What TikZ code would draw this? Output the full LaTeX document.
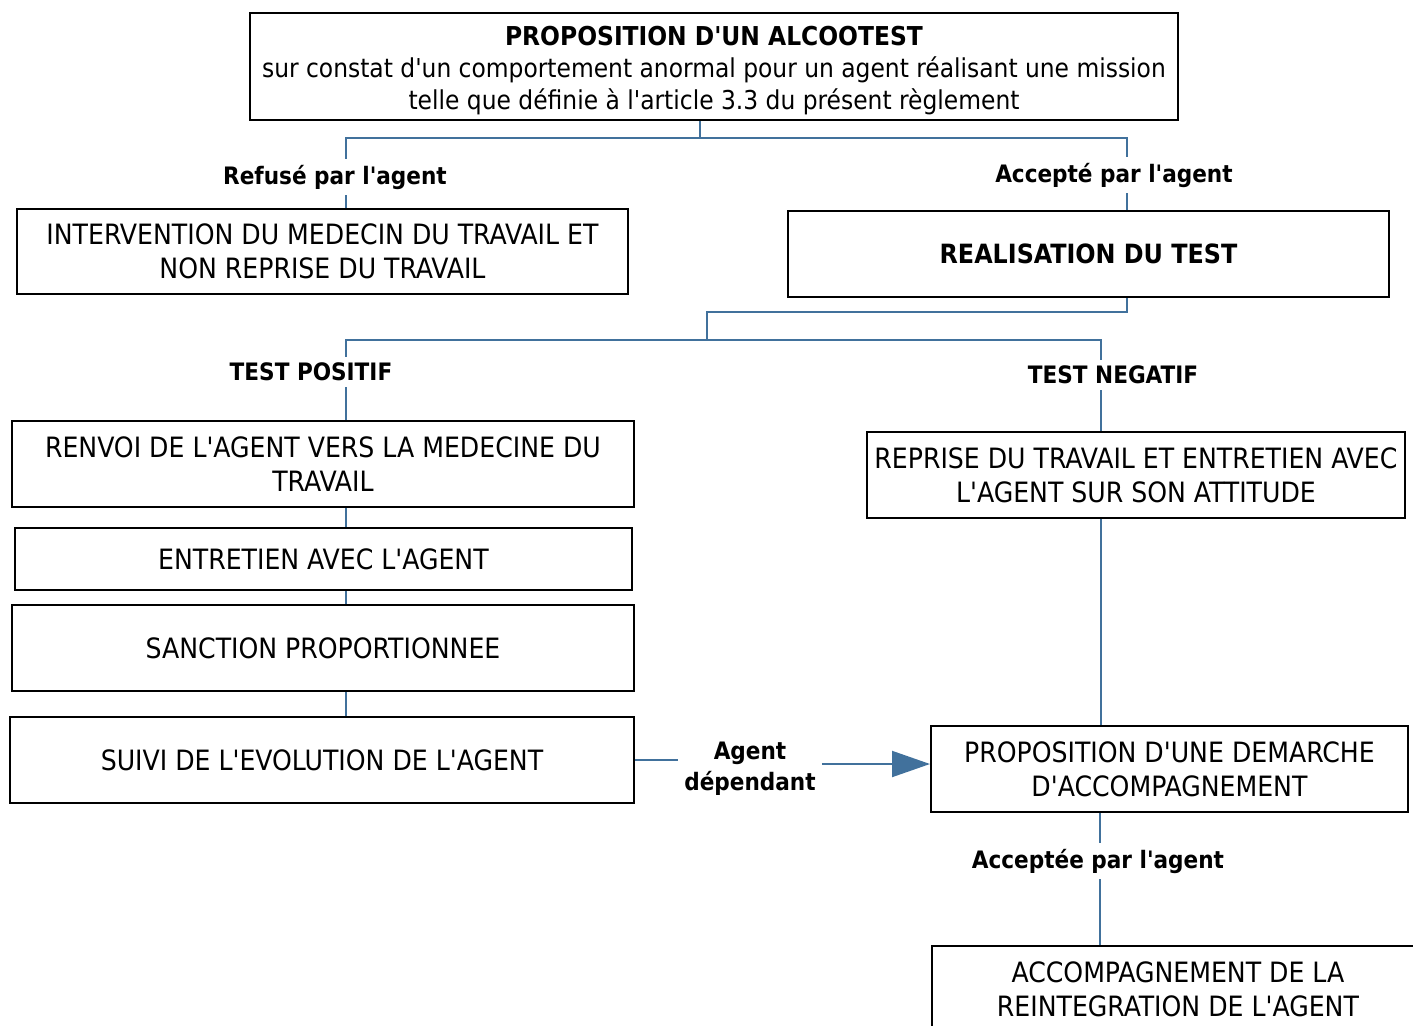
\documentclass[tikz,border=0pt]{standalone}
\usepackage{fontspec}
\setmainfont{DejaVu Sans Condensed}[Ligatures=TeXOff]
\usetikzlibrary{arrows.meta}
\definecolor{trait}{HTML}{41719C}

\begin{document}
\begin{tikzpicture}[x=1pt,y=-1pt,
    boite/.style={draw=black,line width=2pt,align=center,inner sep=0pt,
      font=\fontsize{28}{34}\selectfont},
    etiq/.style={font=\bfseries\fontsize{24}{31}\selectfont,align=center,inner sep=6pt},
    lien/.style={draw=trait,line width=2pt},
    fleche/.style={lien,-{Triangle[length=38pt,width=26pt]}}]
    \useasboundingbox (0,0) rectangle (1413,1025);

    % boites
    \node[boite,minimum width=928,minimum height=107,font=\fontsize{26}{32}\selectfont] (alco) at (714,66.5) {};
    \node[font=\fontsize{26}{32}\selectfont,align=center] (alcot) at (714,70.5)
        {{\bfseries PROPOSITION D'UN ALCOOTEST}\\sur constat d'un comportement anormal pour un agent réalisant une mission\\telle que définie à l'article 3.3 du présent règlement};
    \node[boite,minimum width=611,minimum height=85] (interv) at (322.5,251.5)
        {INTERVENTION DU MEDECIN DU TRAVAIL ET\\NON REPRISE DU TRAVAIL};
    \node[boite,minimum width=601,minimum height=86,font=\bfseries\fontsize{26.5}{34}\selectfont] (real) at (1088.5,254)
        {REALISATION DU TEST};
    \node[boite,minimum width=622,minimum height=86] (renvoi) at (323,464)
        {RENVOI DE L'AGENT VERS LA MEDECINE DU\\TRAVAIL};
    \node[boite,minimum width=617,minimum height=62] (entret) at (323.5,559)
        {ENTRETIEN AVEC L'AGENT};
    \node[boite,minimum width=622,minimum height=86] (sanct) at (323,648)
        {SANCTION PROPORTIONNEE};
    \node[boite,minimum width=624,minimum height=86] (suivi) at (322,760)
        {SUIVI DE L'EVOLUTION DE L'AGENT};
    \node[boite,minimum width=538,minimum height=86] (reprise) at (1136,475)
        {REPRISE DU TRAVAIL ET ENTRETIEN AVEC\\L'AGENT SUR SON ATTITUDE};
    \node[boite,minimum width=477,minimum height=86] (propo) at (1169.5,769)
        {PROPOSITION D'UNE DEMARCHE\\D'ACCOMPAGNEMENT};
    \node[boite,minimum width=490,minimum height=104,anchor=north west] (accomp) at (931,945) {};
    \node[font=\fontsize{28}{34}\selectfont,align=center] (accompt) at (1178,989)
        {ACCOMPAGNEMENT DE LA\\REINTEGRATION DE L'AGENT};

    % etiquettes
    \node[etiq] (refus) at (335,177) {Refusé par l'agent};
    \node[etiq] (accep) at (1114,175) {Accepté par l'agent};
    \node[etiq] (pos) at (311,372) {TEST POSITIF};
    \node[etiq] (neg) at (1113,375) {TEST NEGATIF};
    \node[etiq] (dep) at (750,769) {Agent\\dépendant};
    \node[etiq] (accee) at (1098,861) {Acceptée par l'agent};

    % liaisons
    \coordinate (j1) at (700,138);
    \coordinate (g) at (346,138);
    \coordinate (d) at (1127,138);
    \draw[lien] (j1 |- alco.south) -- (j1);
    \draw[lien] (g |- refus.north) -- (g) -- (d) -- (d |- accep.north);
    \draw[lien] (g |- refus.south) -- (g |- interv.north);
    \draw[lien] (d |- accep.south) -- (d |- real.north);

    \coordinate (k1) at (1127,312);
    \coordinate (k2) at (707,312);
    \coordinate (g2) at (346,340);
    \coordinate (d2) at (1101,340);
    \draw[lien] (k1 |- real.south) -- (k1) -- (k2) -- (k2 |- g2);
    \draw[lien] (g2 |- pos.north) -- (g2) -- (d2) -- (d2 |- neg.north);
    \draw[lien] (g2 |- pos.south) -- (g2 |- renvoi.north);
    \draw[lien] (g2 |- renvoi.south) -- (g2 |- entret.north);
    \draw[lien] (g2 |- entret.south) -- (g2 |- sanct.north);
    \draw[lien] (g2 |- sanct.south) -- (g2 |- suivi.north);
    \draw[lien] (d2 |- neg.south) -- (d2 |- reprise.north);
    \draw[lien] (d2 |- reprise.south) -- (d2 |- propo.north);

    \draw[lien] (suivi.east) -- (suivi.east -| dep.west);
    \draw[fleche] ([yshift=5pt]dep.east) -- ([yshift=5pt]dep.east -| propo.west);

    \draw[lien] (accee.north -| 1100,0) -- (1100,0 |- propo.south);
    \draw[lien] (accee.south -| 1100,0) -- (1100,0 |- accomp.north);
\end{tikzpicture}
\end{document}
